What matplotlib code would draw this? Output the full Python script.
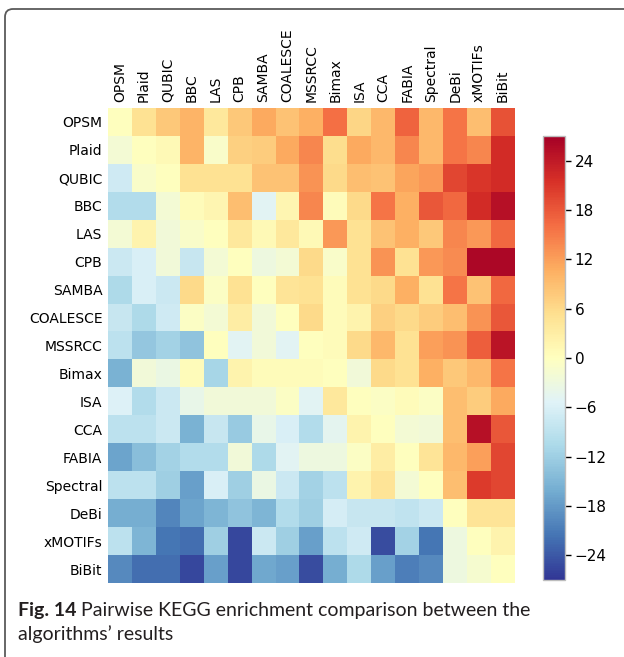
import matplotlib
matplotlib.use('Agg')
import matplotlib.pyplot as plt
import numpy as np
from matplotlib.patches import FancyBboxPatch

algorithms = ['OPSM', 'Plaid', 'QUBIC', 'BBC', 'LAS', 'CPB', 'SAMBA', 'COALESCE',
              'MSSRCC', 'Bimax', 'ISA', 'CCA', 'FABIA', 'Spectral', 'DeBi',
              'xMOTIFs', 'BiBit']

# pairwise scores, one row per algorithm
opsm     = [0, 5, 8, 10, 4, 8, 11, 8.5, 10.5, 16, 6.5, 9.5, 17, 9.5, 15.5, 9, 18.5]
plaid    = [-2, 0, 1, 10, -1, 7, 7.5, 11, 14, 5.5, 11, 9.5, 14, 9.5, 15.5, 14, 22]
qubic    = [-7, -1, 0, 5, 5, 5, 8.5, 8.5, 13, 6, 9, 8.5, 11.5, 12.5, 19.5, 21, 22]
bbc      = [-10, -10, -2, 0.5, 1.5, 9, -5, 1.5, 14, 0.5, 6, 15.5, 10.5, 18, 16.5, 22, 25]
las      = [-2, 2, -2.5, -1, 0, 4, 1, 4, 1, 12.5, 5, 8.5, 10.5, 8, 14, 12.5, 16.5]
cpb      = [-7.5, -6, -2.5, -8, -2, 0, -3, -2, 6, -1, 5, 13, 5, 12.5, 13.5, 26, 26]
samba    = [-10.5, -6, -7.5, 6, -0.5, 5, 0, 4.5, 5, 0.5, 5, 6, 10.5, 5, 15.5, 8.5, 16.5]
coalesce = [-8, -10.5, -7, -0.5, -2, 3, -2.5, 0, 6, 0.5, 2, 7, 6, 7.5, 9, 13, 18]
mssrcc   = [-9, -13, -11.5, -13.5, 0, -5, -2.5, -5, 0, 0.5, 6, 9.5, 5, 12, 13, 17.5, 24.5]
bimax    = [-15.5, -2.5, -3.5, 0.5, -11, 2, 0.5, 0.5, 0.5, 0, -2.5, 6, 5, 10.5, 8, 9.5, 15.5]
isa      = [-5.5, -10, -7.5, -4, -2.5, -2.5, -2.5, -0.5, -5, 4, 0, -0.5, 0.5, -0.5, 9, 7.5, 11]
cca      = [-9, -9, -7.5, -15.5, -8, -12.5, -4, -6, -10, -4.5, 2, 0, -2, -2.5, 9, 25, 18]
fabia    = [-17, -14, -11.5, -10, -10, -2.5, -10.5, -5, -3, -3, -0.5, 3, 0, 4.5, 9.5, 12, 19.5]
spectral = [-9, -9, -12, -17.5, -6, -12, -3.5, -7.5, -11.5, -9, 2, 4.5, -2, 0, 9, 20.5, 19.5]
debi     = [-16, -16, -20, -17, -15, -13.5, -15, -10, -12, -6.5, -8, -8, -8.5, -7.5, 0, 4.5, 4.5]
xmotifs  = [-9, -15, -21.5, -22, -12, -25.5, -7.5, -12, -17.5, -9, -7, -25, -11.5, -21.5, -3, 0, 2]
bibit    = [-19.5, -22, -22, -25.5, -17.5, -25.5, -16.5, -17.5, -25, -16, -10.5, -17.5, -20.5, -19.5, -3, -1.5, 0]

rows = [opsm, plaid, qubic, bbc, las, cpb, samba, coalesce, mssrcc, bimax,
        isa, cca, fabia, spectral, debi, xmotifs, bibit]
data = np.array(rows, dtype=float)

cbar_ticks = [-24, -18, -12, -6, 0, 6, 12, 18, 24]
caption_bold = 'Fig. 14'
caption_1 = ' Pairwise KEGG enrichment comparison between the'
caption_2 = 'algorithms\u2019 results'

W, H = 624, 657
fig = plt.figure(figsize=(W / 100, H / 100), dpi=100)

# background axes in pixel coordinates for the frame and caption
bg = fig.add_axes([0, 0, 1, 1], zorder=0)
bg.set_xlim(0, W)
bg.set_ylim(H, 0)
bg.axis('off')
frame = FancyBboxPatch((5, 9), 700, 700, boxstyle='round,pad=0,rounding_size=8',
                       facecolor='white', edgecolor='#5a5a5a', linewidth=1.3)
bg.add_patch(frame)

def fx(px):
    return px / W

def fy(py):
    return 1 - py / H

ax = fig.add_axes([fx(108), fy(583), fx(515) - fx(108), fy(108) - fy(583)], zorder=2)
im = ax.imshow(data, cmap='RdYlBu_r', vmin=-27, vmax=27, aspect='auto',
               interpolation='nearest')
ax.set_xticks(range(len(algorithms)))
ax.set_xticklabels(algorithms, rotation=90, fontsize=10)
ax.set_yticks(range(len(algorithms)))
ax.set_yticklabels(algorithms, fontsize=10)
ax.xaxis.tick_top()
ax.tick_params(length=0, pad=4)
for s in ax.spines.values():
    s.set_visible(False)

cax = fig.add_axes([fx(543), fy(580), fx(565) - fx(543), fy(136) - fy(580)], zorder=2)
cb = fig.colorbar(im, cax=cax, ticks=cbar_ticks)
cb.outline.set_edgecolor('#bdbdbd')
cb.outline.set_linewidth(1.0)
cax.tick_params(labelsize=11, length=4, width=1, pad=3)

# caption
cap_font = 'Lato'
t1 = bg.text(18, 616, caption_bold, fontsize=14, fontweight='bold',
             family=cap_font, color='#231f20', va='baseline')
fig.canvas.draw()
r = fig.canvas.get_renderer()
bb = t1.get_window_extent(renderer=r)
bg.text(bb.x1, 616, caption_1, fontsize=14, family=cap_font,
        color='#231f20', va='baseline')
bg.text(18, 640, caption_2, fontsize=14, family=cap_font,
        color='#231f20', va='baseline')

fig.savefig('out.png', dpi=100)
